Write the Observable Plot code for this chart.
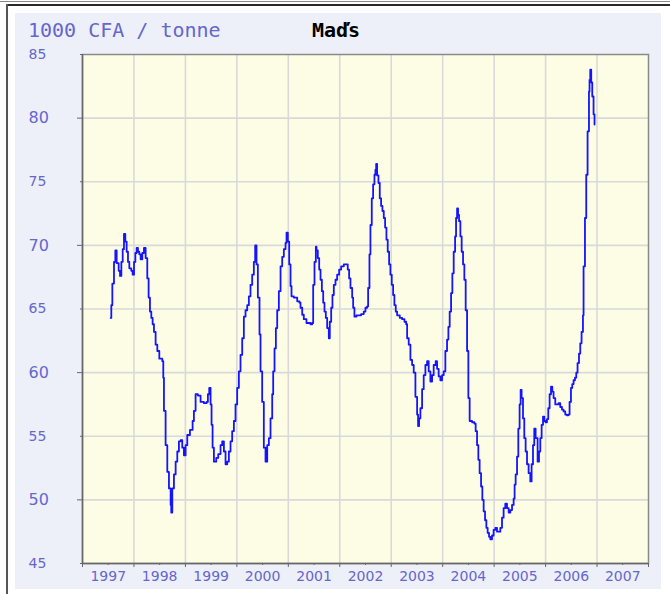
<!DOCTYPE html>
<html><head><meta charset="utf-8">
<script src="https://cdn.jsdelivr.net/npm/d3@7"></script>
<script src="https://cdn.jsdelivr.net/npm/@observablehq/plot@0.6"></script>
<style>
body{margin:0;background:#fff;}
#wrap{position:relative;width:670px;height:594px;overflow:hidden;background:#fff;}
#l1{position:absolute;left:0;top:1px;width:670px;height:1px;background:#8a8a8a;}
#l2{position:absolute;left:6px;top:4px;width:664px;height:2px;background:#2a2a2a;}
#lv{position:absolute;left:6px;top:4px;width:2px;height:590px;background:#555;}
#panel{position:absolute;left:15px;top:13px;width:646px;height:576px;background:#edf0f9;}
#unit{position:absolute;left:28px;top:20px;font:20px/20px "DejaVu Sans Mono",monospace;color:#6666cc;white-space:pre;}
#title{position:absolute;left:312px;top:20px;font:bold 20px/20px "DejaVu Sans Mono",monospace;color:#000;white-space:pre;}
#chart{position:absolute;left:0;top:0;}
</style></head>
<body>
<div id="wrap">
<div id="l1"></div><div id="l2"></div><div id="lv"></div>
<div id="panel"></div>
<div id="unit">1000 CFA / tonne</div>
<div id="title">Maďs</div>
<div id="chart"></div>
</div>
<script>
// decimal year of each observation
const years = [
1997.548,1997.560,1997.580,1997.612,1997.638,1997.664,1997.703,1997.729,1997.755,1997.781,
1997.806,1997.832,1997.858,1997.884,1997.910,1997.949,1997.975,1998.001,1998.027,1998.052,
1998.078,1998.104,1998.130,1998.162,1998.194,1998.227,1998.259,1998.285,1998.311,1998.337,
1998.363,1998.389,1998.421,1998.454,1998.493,1998.551,1998.570,1998.583,1998.615,1998.648,
1998.680,1998.713,1998.725,1998.745,1998.777,1998.810,1998.842,1998.874,1998.907,1998.939,
1998.971,1999.004,1999.036,1999.088,1999.140,1999.165,1999.198,1999.243,1999.295,1999.359,
1999.411,1999.437,1999.463,1999.489,1999.508,1999.528,1999.554,1999.599,1999.638,1999.683,
1999.715,1999.748,1999.780,1999.812,1999.845,1999.877,1999.909,1999.942,1999.974,2000.006,
2000.039,2000.071,2000.104,2000.136,2000.168,2000.201,2000.233,2000.265,2000.298,2000.330,
2000.356,2000.382,2000.408,2000.440,2000.460,2000.492,2000.524,2000.557,2000.590,2000.622,
2000.654,2000.687,2000.706,2000.732,2000.758,2000.784,2000.816,2000.849,2000.881,2000.913,
2000.946,2000.965,2000.991,2001.017,2001.043,2001.062,2001.107,2001.173,2001.217,2001.237,
2001.270,2001.301,2001.353,2001.431,2001.464,2001.483,2001.509,2001.535,2001.548,2001.573,
2001.600,2001.626,2001.652,2001.678,2001.703,2001.729,2001.755,2001.787,2001.806,2001.833,
2001.858,2001.884,2001.917,2001.949,2001.988,2002.027,2002.078,2002.124,2002.155,2002.182,
2002.208,2002.241,2002.260,2002.285,2002.324,2002.369,2002.415,2002.466,2002.499,2002.532,
2002.551,2002.577,2002.596,2002.622,2002.648,2002.674,2002.693,2002.707,2002.726,2002.752,
2002.777,2002.803,2002.829,2002.855,2002.881,2002.907,2002.932,2002.959,2002.984,2003.010,
2003.037,2003.062,2003.088,2003.115,2003.166,2003.212,2003.257,2003.290,2003.309,2003.340,
2003.373,2003.406,2003.437,2003.470,2003.503,2003.522,2003.542,2003.567,2003.600,2003.631,
2003.664,2003.697,2003.728,2003.761,2003.794,2003.825,2003.864,2003.891,2003.922,2003.955,
2003.988,2004.019,2004.052,2004.085,2004.111,2004.136,2004.163,2004.188,2004.214,2004.241,
2004.260,2004.280,2004.299,2004.318,2004.344,2004.369,2004.396,2004.421,2004.447,2004.474,
2004.499,2004.524,2004.571,2004.616,2004.641,2004.668,2004.693,2004.718,2004.746,2004.771,
2004.796,2004.823,2004.849,2004.874,2004.901,2004.926,2004.959,2004.990,2005.023,2005.056,
2005.087,2005.120,2005.153,2005.184,2005.217,2005.250,2005.282,2005.315,2005.348,2005.379,
2005.398,2005.418,2005.445,2005.470,2005.495,2005.515,2005.534,2005.561,2005.586,2005.612,
2005.639,2005.670,2005.703,2005.728,2005.755,2005.780,2005.806,2005.845,2005.872,2005.897,
2005.923,2005.950,2005.975,2006.000,2006.027,2006.052,2006.078,2006.105,2006.130,2006.155,
2006.188,2006.221,2006.252,2006.285,2006.318,2006.349,2006.382,2006.415,2006.441,2006.466,
2006.493,2006.518,2006.544,2006.571,2006.596,2006.621,2006.649,2006.674,2006.699,2006.726,
2006.738,2006.765,2006.790,2006.816,2006.843,2006.854,2006.868,2006.887,2006.907,2006.932,
2006.951
];
// price, 1000 CFA per tonne
const prices = [
64.3,65.3,67.0,68.7,69.6,68.6,68.0,67.6,68.7,69.7,
70.9,70.3,69.5,68.7,68.2,68.0,67.7,68.7,69.4,69.8,
69.5,69.3,68.9,69.4,69.8,69.0,67.4,65.9,64.8,64.3,
63.8,63.2,62.2,61.7,61.1,60.9,59.6,57.0,54.3,52.2,
50.9,49.6,49.0,50.9,52.0,53.0,53.8,54.6,54.7,54.1,
53.5,54.3,55.1,55.5,56.2,57.0,58.3,58.2,57.7,57.6,
57.7,58.3,58.8,57.5,55.9,54.1,53.0,53.3,53.6,54.3,
54.6,53.8,52.8,53.0,53.8,54.6,55.4,56.2,57.5,58.8,
60.1,61.4,62.7,64.4,64.9,65.3,66.0,66.9,67.7,68.7,
70.0,68.5,65.9,63.0,60.1,57.7,54.1,53.0,54.3,54.85,
56.4,58.3,60.1,61.9,63.5,64.9,66.4,68.35,69.1,69.7,
70.2,71.0,70.3,68.5,66.8,66.0,65.9,65.6,65.5,65.1,
64.55,64.2,63.9,63.8,63.9,66.9,68.7,69.9,69.6,69.0,
68.1,67.3,66.4,65.5,64.8,64.3,63.5,62.7,64.0,65.1,
66.1,66.9,67.3,67.7,68.1,68.35,68.5,68.5,68.1,67.4,
66.65,65.9,65.1,64.4,64.5,64.5,64.6,64.8,65.1,65.2,
66.65,69.3,71.6,73.7,74.8,75.55,75.95,76.4,75.5,74.9,
73.7,73.1,72.7,72.15,71.4,70.45,69.5,68.5,67.7,66.9,
66.1,65.3,64.8,64.5,64.3,64.2,64.0,63.8,62.7,62.2,
61.0,60.6,60.0,58.1,56.7,55.8,56.4,57.2,58.7,59.8,
60.6,60.9,60.1,59.3,59.8,60.6,60.9,60.3,59.7,59.4,
59.8,60.1,61.7,62.6,63.6,64.8,66.25,67.8,69.5,70.7,
72.15,72.9,72.4,71.9,70.7,69.5,68.5,67.3,64.9,61.7,
58.0,56.2,56.1,56.0,55.4,54.3,53.15,52.1,51.05,50.0,
49.1,48.4,47.8,47.4,47.1,46.9,47.2,47.65,47.8,47.5,
47.5,47.8,48.6,49.35,49.7,49.35,49.0,49.2,49.6,50.1,
51.2,52.0,53.4,55.6,57.5,58.65,58.0,56.4,54.85,53.8,
52.8,52.1,51.45,52.8,54.3,55.6,54.85,53.0,53.8,54.85,
55.9,56.55,56.2,56.1,56.35,57.2,58.3,58.9,58.5,58.0,
57.5,57.5,57.6,57.3,57.1,56.95,56.7,56.65,56.7,57.7,
58.8,59.1,59.4,59.6,60.0,60.75,61.5,62.3,63.2,64.5,
68.35,72.15,75.55,78.96,82.1,83.0,83.8,82.8,81.7,80.3,
79.5
];
const yearLabels = ["1997","1998","1999","2000","2001","2002","2003","2004","2005","2006","2007"];
const yearBounds = [1997,1998,1999,2000,2001,2002,2003,2004,2005,2006,2007,2008];
const yMajor = [50,60,70,80];
const yMinor = [45,55,65,75,85];
const yGrid = [50,55,60,65,70,75,80];

const data = years.map((t, i) => ({t, v: prices[i]}));
const labelPos = yearLabels.map(s => +s + 0.5);
const textColor = "#6666cc";

const chart = Plot.plot({
  width: 670, height: 594,
  marginLeft: 82, marginRight: 22, marginTop: 54, marginBottom: 31,
  style: {background: "transparent", fontFamily: "DejaVu Sans, sans-serif"},
  x: {type: "linear", domain: [1997, 2008]},
  y: {domain: [45, 85]},
  marks: [
    Plot.frame({fill: "#fdfde6", stroke: null}),
    Plot.gridX(yearBounds.slice(1, -1), {stroke: "#d9d9d9", strokeOpacity: 1, strokeWidth: 1.6}),
    Plot.gridY(yGrid, {stroke: "#d9d9d9", strokeOpacity: 1, strokeWidth: 1.6}),
    Plot.line(data, {x: "t", y: "v", curve: "step-after", stroke: "#1414ff", strokeWidth: 1.8}),
    Plot.frame({stroke: "#8a8a8a", strokeWidth: 1.5}),
    Plot.axisY(yMajor, {tickSize: 5, tickPadding: 49, textAnchor: "start", fontSize: 16, fill: textColor, stroke: "#666", label: null}),
    Plot.axisY(yMinor, {tickSize: 2, tickPadding: 52, textAnchor: "start", fontSize: 14, fill: textColor, stroke: "#666", label: null}),
    Plot.axisX(labelPos, {tickSize: 2, tickPadding: 6, fontSize: 14, fill: textColor, stroke: "#666",
      tickFormat: d => yearLabels[Math.round(d - 1997.5)], label: null}),
    Plot.axisX(yearBounds, {tickSize: 4, tickFormat: () => "", stroke: "#666", label: null}),
    Plot.ruleX([1997], {stroke: "#666", strokeWidth: 1.5}),
    Plot.ruleY([45], {stroke: "#666", strokeWidth: 1.5})
  ]
});
document.getElementById("chart").appendChild(chart);
</script>
</body></html>
